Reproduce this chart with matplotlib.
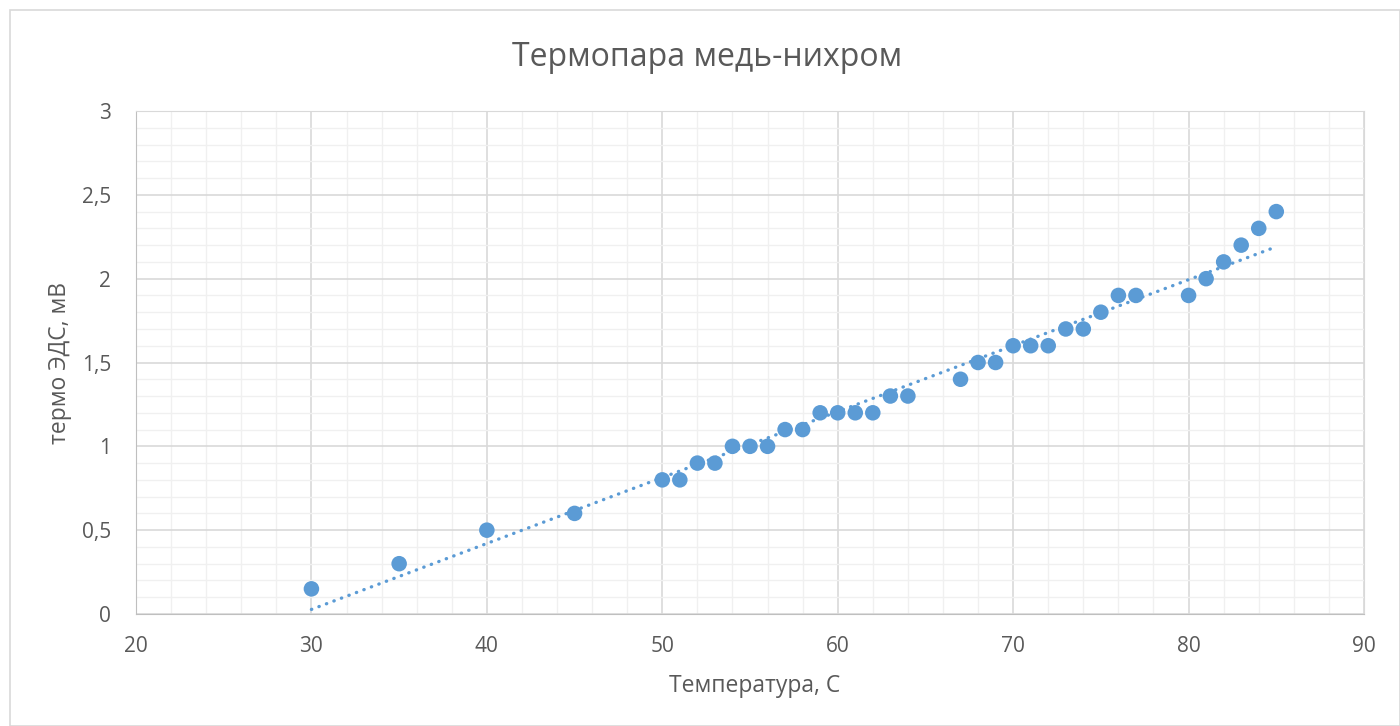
import numpy as np
import matplotlib
matplotlib.use("Agg")
import matplotlib.pyplot as plt
from matplotlib.ticker import MultipleLocator, FuncFormatter

temperature = [30, 35, 40, 45, 50, 51, 52, 53, 54, 55, 56, 57, 58, 59, 60, 61, 62, 63, 64,
               67, 68, 69, 70, 71, 72, 73, 74, 75, 76, 77, 80, 81, 82, 83, 84, 85]
emf = [0.15, 0.3, 0.5, 0.6, 0.8, 0.8, 0.9, 0.9, 1.0, 1.0, 1.0, 1.1, 1.1, 1.2, 1.2, 1.2, 1.2, 1.3, 1.3,
       1.4, 1.5, 1.5, 1.6, 1.6, 1.6, 1.7, 1.7, 1.8, 1.9, 1.9, 1.9, 2.0, 2.1, 2.2, 2.3, 2.4]

title = "Термопара медь-нихром"
xlabel = "Температура, С"
ylabel = "термо ЭДС, мВ"

plt.rcParams['font.family'] = ['Open Sans', 'DejaVu Sans']
txt = '#595959'
blue = '#5B9BD5'

fig = plt.figure(figsize=(14, 7.26), dpi=100)
ax = fig.add_axes([136/1400, 1 - 614/726, 1228/1400, 503/726])

ax.set_xlim(20, 90)
ax.set_ylim(0, 3)
ax.xaxis.set_major_locator(MultipleLocator(10))
ax.xaxis.set_minor_locator(MultipleLocator(2))
ax.yaxis.set_major_locator(MultipleLocator(0.5))
ax.yaxis.set_minor_locator(MultipleLocator(0.1))
ax.yaxis.set_major_formatter(FuncFormatter(lambda v, p: ('%g' % v).replace('.', ',')))

ax.grid(which='major', color='#D9D9D9', linewidth=1.2, zorder=0)
ax.grid(which='minor', color='#F0F0F0', linewidth=1.0, zorder=0)
ax.set_axisbelow(True)

for s in ['top', 'right']:
    ax.spines[s].set_color('#D9D9D9')
for s in ['left', 'bottom']:
    ax.spines[s].set_color('#BFBFBF')
ax.tick_params(which='both', length=0, labelsize=15, colors=txt)
ax.tick_params(axis='x', pad=16)
ax.tick_params(axis='y', pad=18)

ax.scatter(temperature, emf, s=125, color=blue, zorder=3, edgecolors='none')

coef = np.polyfit(temperature, emf, 1)
xt = np.array([min(temperature), max(temperature)])
ax.plot(xt, np.polyval(coef, xt), linestyle=(0, (0.1, 2.3)), color=blue, linewidth=2.4,
        dash_capstyle='round', zorder=2)

fig.text(707/1400, 1 - 58/726, title, fontsize=23, color=txt, ha='center', va='center')
fig.text(755/1400, 1 - 686/726, xlabel, fontsize=16.5, color=txt, ha='center', va='center')
fig.text(60/1400, 1 - 363/726, ylabel, fontsize=16.5, color=txt, ha='center', va='center',
         rotation=90)

# chart border
fig.add_artist(plt.Rectangle((10/1400, 0), 1 - 10/1400, 1 - 10/726, transform=fig.transFigure,
                             fill=False, edgecolor='#D9D9D9', linewidth=1.2))

fig.savefig('out.png', dpi=100, facecolor='white')
